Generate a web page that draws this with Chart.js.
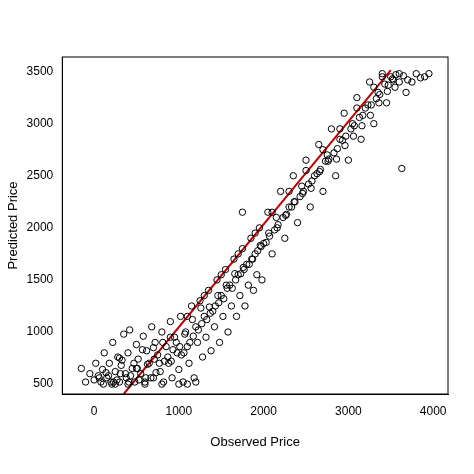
<!DOCTYPE html>
<html><head><script src="https://cdn.jsdelivr.net/npm/chart.js@4"></script>
<style>body{margin:0;background:#fff}#wrap{width:474px;height:474px}</style></head>
<body><div id="wrap"><canvas id="c"></canvas></div>
<script>
// observed / predicted prices (a sample of the cloud)
const observed = [-150,-100,-50,0,20,50,80,100,120,150,180,200,220,250,280,300,320,350,380,400,420,450,480,500,520,550,580,600,620,650,680,700,720,750,780,800,820,850,880,900,920,950,980,1000,1020,1050,1080,1100,1120,1150,1180,1200,1220,1250,1280,1300,1320,1350,1380,1400,1420,1450,1480,1500,1520,1550,1580,1600,1620,1650,1680,1700,1720,1750,1780,1800,1820,1850,1880,1900,1920,1950,1980,2000,2050,2100,2150,2200,2250,2300,2350,2400,2450,2500,2550,2600,2650,2700,2750,2800,2850,2900,2950,3000,3050,3100,3150,3200,3250,3300,3350,3400,3450,3500,3550,3600,3700,3800,3950,250,400,600,800,1000,1100,1200,1750,3630,300,500,700,900,1100,1300,1500,1700,1900,2100,2300,2500,2700,2900,3100,3300,3400,3600,
  60,140,230,330,430,530,630,730,830,930,1030,1130,1230,1330,1430,1530,1630,1730,1830,1930,2030,2130,2230,2330,2430,2530,2630,2730,2830,2930,3030,3130,3230,3330,3430,3530,3650,3750,3850,
  170,270,370,470,570,670,770,870,970,1070,1170,1270,1370,1470,1570,1670,1770,1870,1970,2070,2170,2270,2370,2470,2570,2670,2770,2870,2970,3070,3170,3270,3370,3470,3560,3680,3900,
  110,210,310,410,510,610,710,810,910,1010,1060,1160,1260,1360,1460,1560,1660,1760,1860,1960,2060,2160,2260,2360,2460,2560,2660,2760,2860,2960,3060,3160,3260,3360,3460,3520];
const predicted = [650,520,600,540,700,580,520,640,800,560,700,520,900,620,760,520,680,980,560,800,1020,650,520,880,740,600,960,520,820,700,1050,560,900,780,620,1000,520,860,700,1100,560,950,800,640,1150,520,1000,860,700,1250,560,1050,900,1300,760,1150,950,1400,820,1200,1050,1500,900,1350,1150,1600,1000,1450,1250,1700,1150,1550,1350,1800,1250,1650,1450,1900,1400,1750,1550,2000,1500,1850,2150,1750,2100,2350,1900,2200,2500,2050,2400,2650,2200,2500,2800,2350,2700,2950,2500,2850,3100,2650,3000,3250,2850,3150,3400,3000,3300,3480,3200,3450,3350,3480,3420,3480,3480,500,500,500,500,500,500,520,2150,2570,750,650,850,950,1150,1350,1550,1750,1950,2150,2350,2550,2750,2950,3150,3350,3450,3400,
  560,610,520,730,580,540,690,610,720,830,780,900,1020,1120,1250,1320,1420,1560,1650,1780,1860,1980,2100,2200,2300,2420,2520,2640,2720,2840,2950,3060,3180,3240,3380,3420,3460,3400,3440,
  580,540,600,700,830,560,700,760,900,980,960,1080,1180,1280,1420,1500,1600,1700,1820,1920,2030,2130,2250,2350,2450,2560,2660,2760,2880,2980,3080,3180,3280,3370,3470,3300,3450,
  500,500,600,520,650,560,740,900,720,860,800,1120,1230,1240,1350,1450,1560,1620,1700,1830,1950,2000,2120,2250,2330,2380,2540,2640,2660,2790,2880,2980,3080,3200,3310,3430];
const fitX = [350, 3500];
const fitY = [405, 3515];
const xTicks = [0, 1000, 2000, 3000, 4000];
const yTicks = [500, 1000, 1500, 2000, 2500, 3000, 3500];

const pts = observed.map((v, i) => ({x: v, y: predicted[i]}));
const fit = fitX.map((v, i) => ({x: v, y: fitY[i]}));
const font = {family: "Liberation Sans", size: 12};

const boxPlugin = {
    id: "box",
    afterDraw(chart) {
        const a = chart.chartArea, ctx = chart.ctx;
        ctx.save();
        ctx.strokeStyle = "#000";
        ctx.lineWidth = 1;
        ctx.strokeRect(a.left, a.top, a.right - a.left, a.bottom - a.top);
        ctx.restore();
    }
};

new Chart(document.getElementById("c"), {
    type: "scatter",
    data: {
        datasets: [
            {data: pts, pointRadius: 3.2, borderColor: "#000", borderWidth: 1, backgroundColor: "rgba(0,0,0,0)"},
            {type: "line", data: fit, borderColor: "#c00000", borderWidth: 2, pointRadius: 0}
        ]
    },
    options: {
        responsive: true,
        maintainAspectRatio: false,
        animation: false,
        layout: {padding: {left: 2, right: 26, top: 57, bottom: 20}},
        plugins: {legend: {display: false}, tooltip: {enabled: false}},
        scales: {
            x: {
                type: "linear", min: -375, max: 4175,
                afterBuildTicks: s => { s.ticks = xTicks.map(v => ({value: v})); },
                grid: {display: false, drawOnChartArea: false, drawTicks: true, tickLength: 6, color: "#000"},
                border: {color: "#000"},
                ticks: {color: "#000", font: font, padding: 4, callback: v => String(v)},
                title: {display: true, text: "Observed Price", color: "#000", font: {family: "Liberation Sans", size: 13}, padding: {top: 12}}
            },
            y: {
                type: "linear", min: 405, max: 3640,
                afterBuildTicks: s => { s.ticks = yTicks.map(v => ({value: v})); },
                grid: {display: false, drawOnChartArea: false, drawTicks: true, tickLength: 6, color: "#000"},
                border: {color: "#000"},
                ticks: {color: "#000", font: font, padding: 3, callback: v => String(v)},
                title: {display: true, text: "Predicted Price", color: "#000", font: {family: "Liberation Sans", size: 13}, padding: {bottom: 2}}
            }
        }
    },
    plugins: [boxPlugin]
});
</script></body></html>
